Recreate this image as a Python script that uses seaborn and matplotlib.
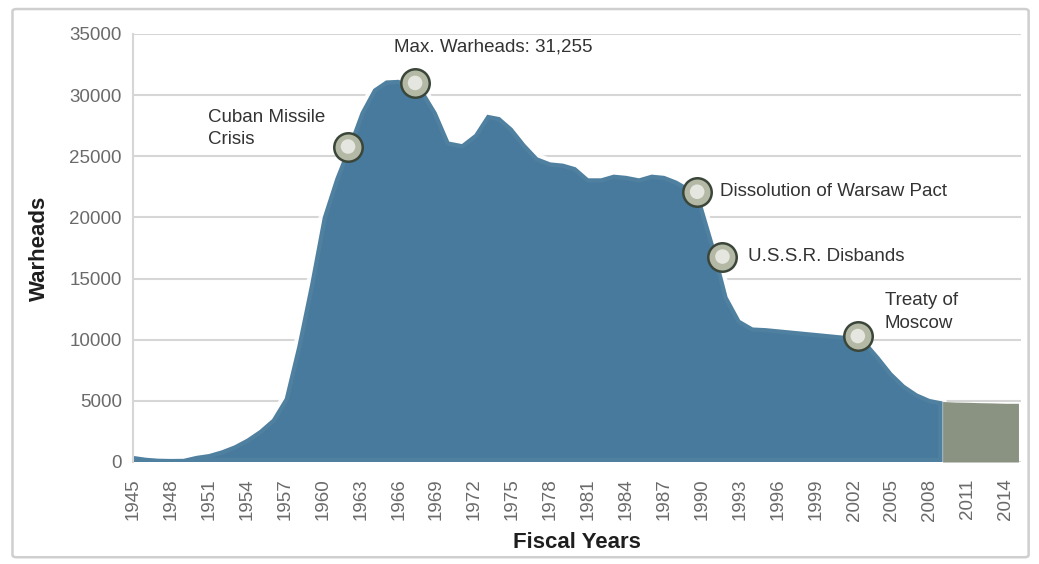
import numpy as np
import pandas as pd
import seaborn as sns
import matplotlib.pyplot as plt
import matplotlib.patheffects as pe
from matplotlib.patches import FancyBboxPatch

# stockpile size
years = list(range(1945, 2010))
warheads = [500, 350, 270, 250, 260, 500, 650, 950, 1350, 1900,
            2600, 3500, 5200, 9500, 14500, 20000, 23200, 25800, 28600, 30500,
            31200, 31255, 30800, 30300, 28600, 26200, 26000, 26800, 28400, 28200,
            27300, 26000, 24900, 24500, 24400, 24100, 23200, 23200, 23500, 23400,
            23200, 23500, 23400, 23000, 22400, 21000, 17500, 13500, 11600, 11000,
            10950, 10850, 10750, 10650, 10550, 10450, 10350, 10250, 9800, 8600,
            7300, 6300, 5600, 5150, 4950]

# projected (grey) part
proj_years = [2009, 2010, 2011, 2012, 2013, 2014, 2015]
proj_warheads = [4950, 4900, 4880, 4850, 4830, 4800, 4800]

# annotated events
event_years = [1962, 1967.3, 1989.6, 1991.6, 2002.3]
event_values = [25800, 31000, 22100, 16800, 10300]
event_labels = ["Cuban Missile\nCrisis", "Max. Warheads: 31,255",
                "Dissolution of Warsaw Pact", "U.S.S.R. Disbands",
                "Treaty of\nMoscow"]
label_offsets = [(-140, 18), (-21, 36), (23, 0), (26, 0), (27, 24)]  # pixels

xticks = list(range(1945, 2015, 3))
yticks = list(range(0, 35001, 5000))

df = pd.DataFrame({"year": years, "warheads": warheads})
proj = pd.DataFrame({"year": proj_years, "warheads": proj_warheads})
events = pd.DataFrame({"year": event_years, "warheads": event_values})

sns.set_theme(style="whitegrid")
plt.rcParams['font.family'] = ['Liberation Sans', 'DejaVu Sans']

fig = plt.figure(figsize=(10.39, 5.64), dpi=100)
fig.patch.set_facecolor("white")
ax = fig.add_axes([133 / 1039, 1 - 462 / 564, 888 / 1039, 428 / 564])
ax.set_facecolor("white")

# outer frame of the picture
frame = FancyBboxPatch((0.012, 0.012), 0.978, 0.972, transform=fig.transFigure,
                       boxstyle="round,pad=0,rounding_size=0.004",
                       facecolor="none", edgecolor="#cfcfcf", linewidth=1.8)
fig.patches.append(frame)

glow = [pe.Stroke(linewidth=6, foreground="white", alpha=0.9), pe.Normal()]
ax.fill_between(df["year"], df["warheads"], color="#477a9c", alpha=0.95,
                linewidth=0, zorder=2, path_effects=glow)
ax.fill_between(proj["year"], proj["warheads"], color="#8a9381",
                linewidth=0, zorder=2)

# glossy event markers
sns.scatterplot(data=events, x="year", y="warheads", ax=ax, s=420,
                color="#b3b9a5", edgecolor="#3b463a", linewidth=1.8, zorder=4,
                legend=False)
sns.scatterplot(data=events, x="year", y="warheads", ax=ax, s=110,
                color="white", alpha=0.65, edgecolor="none", zorder=5,
                legend=False)

for (yr, val, lab, off) in zip(event_years, event_values, event_labels, label_offsets):
    ax.annotate(lab, xy=(yr, val), xytext=off, textcoords="offset pixels",
                ha="left", va="center", fontsize=13.5, color="#333333",
                linespacing=1.45, zorder=6)

ax.set_xlim(1945, 2015.2)
ax.set_ylim(0, 35000)
ax.set_xticks(xticks)
ax.set_xticklabels([str(y) for y in xticks], rotation=90)
ax.set_yticks(yticks)
ax.tick_params(axis="x", labelsize=13.5, labelcolor="#6a6a6a", pad=12, length=0)
ax.tick_params(axis="y", labelsize=13.5, labelcolor="#6a6a6a", pad=8, length=0)

ax.grid(axis="y", color="#d6d6d6", linewidth=1.5, zorder=1)
ax.grid(axis="x", visible=False)
for side in ["top", "right", "bottom"]:
    ax.spines[side].set_visible(False)
ax.spines["left"].set_color("#d6d6d6")
ax.spines["left"].set_linewidth(1.5)

ax.set_xlabel("Fiscal Years", fontsize=16, fontweight="bold", color="#1e1e1e", labelpad=8)
ax.set_ylabel("Warheads", fontsize=16, fontweight="bold", color="#1e1e1e", labelpad=14)

fig.savefig("out.png", dpi=100)
